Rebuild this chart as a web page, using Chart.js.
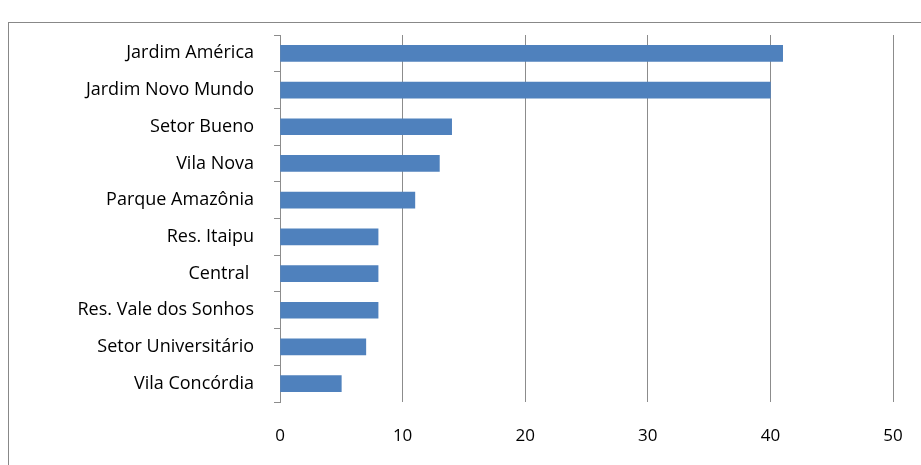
<!DOCTYPE html>
<html>
<head>
<meta charset="utf-8">
<script src="https://cdn.jsdelivr.net/npm/chart.js@4"></script>
<style>
  body { margin: 0; background: #fff; }
  #frame { position: absolute; left: 8px; top: 22px; width: 920px; height: 450px; border: 1px solid #888; box-sizing: border-box; }
  #wrap { position: absolute; left: 0; top: 0; width: 921px; height: 465px; }
</style>
</head>
<body>
<div id="frame"></div>
<div id="wrap"><canvas id="c"></canvas></div>
<script>
// bairros e contagens
const categories = ['Jardim América', 'Jardim Novo Mundo', 'Setor Bueno', 'Vila Nova', 'Parque Amazônia',
    'Res. Itaipu', 'Central ', 'Res. Vale dos Sonhos', 'Setor Universitário', 'Vila Concórdia'];
const values = [41, 40, 14, 13, 11, 8, 8, 8, 7, 5];
const xTicks = [0, 10, 20, 30, 40, 50];

new Chart(document.getElementById('c'), {
    type: 'bar',
    data: {
        labels: categories,
        datasets: [{
            data: values,
            backgroundColor: '#4f81bd',
            barThickness: 16
        }]
    },
    options: {
        indexAxis: 'y',
        responsive: true,
        maintainAspectRatio: false,
        animation: false,
        layout: { padding: { top: 35, right: 28, left: 0, bottom: 0 } },
        plugins: { legend: { display: false }, tooltip: { enabled: false } },
        scales: {
            x: {
                min: 0, max: 50,
                afterBuildTicks: axis => { axis.ticks = xTicks.map(v => ({ value: v })); },
                afterFit: axis => { axis.height = 63; axis.paddingRight = 0; },
                grid: { color: '#8c8c8c', tickLength: 0, drawTicks: false },
                border: { display: false },
                ticks: { color: '#000', font: { family: 'Open Sans', size: 17 }, padding: 24 }
            },
            y: {
                afterFit: axis => { axis.width = 280; },
                grid: { offset: true, drawOnChartArea: false, color: '#8c8c8c', tickLength: 6 },
                border: { color: '#8c8c8c' },
                ticks: { color: '#000', font: { family: 'Open Sans', size: 18 }, padding: 20 }
            }
        }
    }
});
</script>
</body>
</html>
